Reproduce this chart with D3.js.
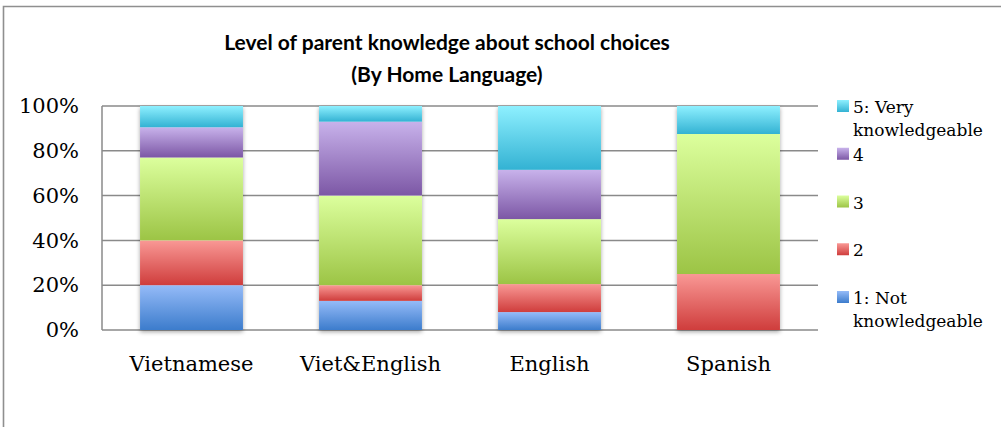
<!DOCTYPE html>
<html>
<head>
<meta charset="utf-8">
<script src="https://cdnjs.cloudflare.com/ajax/libs/d3/7.8.5/d3.min.js"></script>
<style>
    body { margin: 0; background: #fff; }
    svg { display: block; }
</style>
</head>
<body>
<svg id="chart"></svg>
<script>
// data (percent of parents in each group)
const categories = ['Vietnamese', 'Viet&English', 'English', 'Spanish'];
const levelKeys = ['l1', 'l2', 'l3', 'l4', 'l5'];
const levelLabels = [['1: Not', 'knowledgeable'], ['2'], ['3'], ['4'], ['5: Very', 'knowledgeable']];
const level1 = [20, 13, 8, 0];
const level2 = [20, 7, 12.5, 25];
const level3 = [37, 40, 29, 62.5];
const level4 = [13.5, 33, 22, 0];
const level5 = [9.5, 7, 28.5, 12.5];
const yTicks = [0, 20, 40, 60, 80, 100];
const titleLines = ['Level of parent knowledge about school choices', '(By Home Language)'];

const width = 1001;
const height = 427;
const plot = { left: 102, right: 818, top: 106, bottom: 330 };

// gradient colours: light at the top of each block, darker at the bottom
const gradTop = ['#95bbf8', '#f99895', '#dcff9d', '#c8b2eb', '#8ef0ff'];
const gradBottom = ['#3c7ccc', '#cf3d3c', '#9cc445', '#7c57a5', '#33b2d3'];

const rows = categories.map(function (c, i) {
    return { cat: c, l1: level1[i], l2: level2[i], l3: level3[i], l4: level4[i], l5: level5[i] };
});

const svg = d3.select('#chart')
    .attr('width', width)
    .attr('height', height);

const defs = svg.append('defs');
levelKeys.forEach(function (k, i) {
    const g = defs.append('linearGradient')
        .attr('id', 'grad-' + k)
        .attr('x1', 0).attr('y1', 0).attr('x2', 0).attr('y2', 1);
    g.append('stop').attr('offset', '0%').attr('stop-color', gradTop[i]);
    g.append('stop').attr('offset', '100%').attr('stop-color', gradBottom[i]);
});
const shadow = defs.append('filter')
    .attr('id', 'shadow')
    .attr('x', '-20%').attr('y', '-20%').attr('width', '140%').attr('height', '140%');
shadow.append('feDropShadow')
    .attr('dx', 0).attr('dy', 2)
    .attr('stdDeviation', 2)
    .attr('flood-color', '#000')
    .attr('flood-opacity', 0.35);

// outer chart frame (left + top edge visible)
svg.append('path')
    .attr('d', 'M3.5,' + (height + 2) + 'V6.5H' + (width + 2))
    .attr('fill', 'none')
    .attr('stroke', '#8f8f8f')
    .attr('stroke-width', 1.6);

const x = d3.scaleBand()
    .domain(categories)
    .range([plot.left, plot.right])
    .paddingInner(0.425)
    .paddingOuter(0.2125);

const y = d3.scaleLinear()
    .domain([0, 100])
    .range([plot.bottom, plot.top]);

// gridlines
svg.append('g')
    .selectAll('line')
    .data(yTicks)
    .enter()
    .append('line')
    .attr('x1', plot.left)
    .attr('x2', plot.right)
    .attr('y1', function (d) { return y(d); })
    .attr('y2', function (d) { return y(d); })
    .attr('stroke', '#8a8a8a')
    .attr('stroke-width', 1.5);

svg.append('line')
    .attr('x1', plot.left).attr('x2', plot.left)
    .attr('y1', plot.top).attr('y2', plot.bottom)
    .attr('stroke', '#8a8a8a')
    .attr('stroke-width', 1.5);

// stacked bars
const stack = d3.stack().keys(levelKeys);
const series = stack(rows);

const barGroup = svg.append('g');
barGroup.append('g')
    .attr('filter', 'url(#shadow)')
    .selectAll('rect')
    .data(categories)
    .enter()
    .append('rect')
    .attr('x', function (d) { return x(d); })
    .attr('y', plot.top)
    .attr('width', x.bandwidth())
    .attr('height', plot.bottom - plot.top)
    .attr('fill', '#fff');

barGroup.selectAll('g.series')
    .data(series)
    .enter()
    .append('g')
    .attr('class', 'series')
    .attr('fill', function (d) { return 'url(#grad-' + d.key + ')'; })
    .selectAll('rect')
    .data(function (d) { return d; })
    .enter()
    .append('rect')
    .attr('x', function (d) { return x(d.data.cat); })
    .attr('y', function (d) { return y(d[1]); })
    .attr('width', x.bandwidth())
    .attr('height', function (d) { return Math.max(0, y(d[0]) - y(d[1])); });

// axes
const yAxis = d3.axisLeft(y)
    .tickValues(yTicks)
    .tickSize(0)
    .tickPadding(23)
    .tickFormat(function (d) { return d + '%'; });

svg.append('g')
    .attr('transform', 'translate(' + plot.left + ',0)')
    .call(yAxis)
    .call(function (g) { g.select('.domain').remove(); })
    .selectAll('text')
    .attr('font-family', '"DejaVu Serif", serif')
    .attr('font-size', 21)
    .attr('fill', '#000');

const xAxis = d3.axisBottom(x)
    .tickSize(0)
    .tickPadding(26);

svg.append('g')
    .attr('transform', 'translate(0,' + plot.bottom + ')')
    .call(xAxis)
    .call(function (g) { g.select('.domain').remove(); })
    .selectAll('text')
    .attr('font-family', '"DejaVu Serif", serif')
    .attr('font-size', 21)
    .attr('fill', '#000');

// title
svg.append('text')
    .attr('x', 447)
    .attr('y', 50)
    .attr('text-anchor', 'middle')
    .attr('font-family', 'Lato, sans-serif')
    .attr('font-weight', 'bold')
    .attr('font-size', 21)
    .selectAll('tspan')
    .data(titleLines)
    .enter()
    .append('tspan')
    .attr('x', 447)
    .attr('dy', function (d, i) { return i === 0 ? 0 : 32; })
    .text(function (d) { return d; });

// legend, top item is level 5
const legendKeys = levelKeys.slice().reverse();
const ly = d3.scalePoint()
    .domain(legendKeys)
    .range([106, 297]);

const legend = svg.append('g')
    .selectAll('g')
    .data(legendKeys)
    .enter()
    .append('g')
    .attr('transform', function (d) { return 'translate(837,' + ly(d) + ')'; });

legend.append('rect')
    .attr('x', 0)
    .attr('y', -6)
    .attr('width', 12)
    .attr('height', 12)
    .attr('fill', function (d) { return 'url(#grad-' + d + ')'; });

legend.append('text')
    .attr('font-family', '"DejaVu Serif", serif')
    .attr('font-size', 17)
    .attr('fill', '#000')
    .selectAll('tspan')
    .data(function (d) { return levelLabels[levelKeys.indexOf(d)]; })
    .enter()
    .append('tspan')
    .attr('x', 16)
    .attr('y', function (d, i) { return 7 + i * 23; })
    .text(function (d) { return d; });
</script>
</body>
</html>
